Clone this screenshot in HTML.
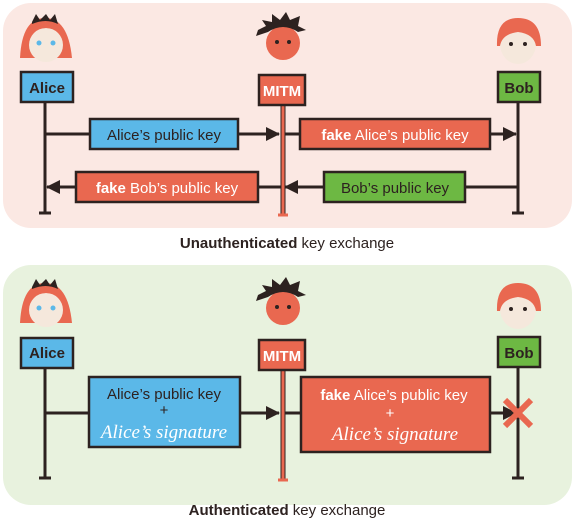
<!DOCTYPE html>
<html><head><style>
body{margin:0;width:575px;height:520px;background:#fff;font-family:"Liberation Sans",sans-serif;overflow:hidden}
</style></head><body>
<svg width="575" height="520" viewBox="0 0 575 520" xmlns="http://www.w3.org/2000/svg" font-family="Liberation Sans, sans-serif">
<defs>
<marker id="ar" markerWidth="14" markerHeight="14" refX="13" refY="7" orient="auto" markerUnits="userSpaceOnUse"><path d="M0,0 L14,7 L0,14 z" fill="#2d2220"/></marker>
</defs>
<rect x="3" y="3" width="569" height="225" rx="28" fill="#fbe8e3"/>
<rect x="3" y="265" width="569" height="240" rx="28" fill="#e8f2de"/>

<g id="alice">
<path d="M20,58 Q22,18 45,18 Q68,18 72,58 Z" fill="#e96850"/>
<ellipse cx="46" cy="45" rx="17" ry="17" fill="#f5e8dc"/>
<path d="M30,28 Q46,18 62,28 L60,32 Q46,24 32,32Z" fill="#e96850"/>
<path d="M32,22 L36,14 L40,20 L46,14 L50,20 L55,14 L58,24 Q46,18 32,24Z" fill="#2d2220"/>
<circle cx="39" cy="43" r="2.5" fill="#5bb8e8"/><circle cx="53" cy="43" r="2.5" fill="#5bb8e8"/>
</g>
<g transform="translate(0,265)"><use href="#alice"/></g>
<g id="mitm">
<circle cx="283" cy="43" r="17" fill="#e96850"/>
<path d="M258,30 L266,26 L262,20 L272,22 L272,14 L280,20 L286,12 L290,20 L300,16 L298,26 L306,30 L298,32 Q283,22 268,32 L256,36Z" fill="#2d2220"/>
<circle cx="277" cy="42" r="2" fill="#2d2220"/><circle cx="289" cy="42" r="2" fill="#2d2220"/>
</g>
<g transform="translate(0,265)"><use href="#mitm"/></g>
<g id="bob">
<ellipse cx="518" cy="44" rx="18" ry="20" fill="#f5e8dc"/>
<path d="M497,46 Q496,18 518,18 Q541,18 541,46 L536,46 Q534,34 518,32 Q502,34 500,46Z" fill="#e96850"/>
<circle cx="511" cy="44" r="2" fill="#2d2220"/><circle cx="525" cy="44" r="2" fill="#2d2220"/>
</g>
<g transform="translate(0,265)"><use href="#bob"/></g>

<g stroke="#2d2220" stroke-width="3" fill="none">
<line x1="45" y1="102" x2="45" y2="213"/><line x1="39" y1="213" x2="51" y2="213"/>
<line x1="518" y1="102" x2="518" y2="213"/><line x1="512" y1="213" x2="524" y2="213"/>
<line x1="45" y1="478" x2="45" y2="366"/><line x1="39" y1="478" x2="51" y2="478"/>
<line x1="518" y1="366" x2="518" y2="478"/><line x1="512" y1="478" x2="524" y2="478"/>
<line x1="45" y1="134" x2="279" y2="134" marker-end="url(#ar)"/>
<line x1="283" y1="134" x2="516" y2="134" marker-end="url(#ar)"/>
<line x1="518" y1="187" x2="285" y2="187" marker-end="url(#ar)"/>
<line x1="283" y1="187" x2="47" y2="187" marker-end="url(#ar)"/>
<line x1="45" y1="413" x2="279" y2="413" marker-end="url(#ar)"/>
<line x1="283" y1="413" x2="516" y2="413" marker-end="url(#ar)"/>
</g>
<rect x="281" y="104" width="4" height="111" fill="#e96850" stroke="#2d2220" stroke-width="1"/>
<line x1="278" y1="215" x2="288" y2="215" stroke="#e96850" stroke-width="3"/>
<rect x="281" y="369" width="4" height="111" fill="#e96850" stroke="#2d2220" stroke-width="1"/>
<line x1="278" y1="480" x2="288" y2="480" stroke="#e96850" stroke-width="3"/>

<g stroke="#2d2220" stroke-width="2.5">
<rect x="21" y="72" width="52" height="30" fill="#5bb8e8"/>
<rect x="259" y="75" width="46" height="30" fill="#e96850"/>
<rect x="498" y="72" width="42" height="30" fill="#6db843"/>
<rect x="21" y="338" width="52" height="30" fill="#5bb8e8"/>
<rect x="259" y="340" width="46" height="30" fill="#e96850"/>
<rect x="498" y="337" width="42" height="30" fill="#6db843"/>
<rect x="90" y="119" width="148" height="30" fill="#5bb8e8"/>
<rect x="300" y="119" width="190" height="30" fill="#e96850"/>
<rect x="76" y="172" width="182" height="30" fill="#e96850"/>
<rect x="324" y="172" width="141" height="30" fill="#6db843"/>
<rect x="89" y="377" width="151" height="70" fill="#5bb8e8"/>
<rect x="301" y="377" width="189" height="75" fill="#e96850"/>
</g>
<g font-size="15" text-anchor="middle">
<text x="47" y="93" font-weight="bold" fill="#2d2220">Alice</text>
<text x="282" y="96" font-weight="bold" fill="#fff">MITM</text>
<text x="519" y="93" font-weight="bold" fill="#2d2220">Bob</text>
<text x="47" y="358" font-weight="bold" fill="#2d2220">Alice</text>
<text x="282" y="361" font-weight="bold" fill="#fff">MITM</text>
<text x="519" y="358" font-weight="bold" fill="#2d2220">Bob</text>
<text x="164" y="140" fill="#2d2220">Alice’s public key</text>
<text x="395" y="140" fill="#fff"><tspan font-weight="bold">fake</tspan> Alice’s public key</text>
<text x="167" y="193" fill="#fff"><tspan font-weight="bold">fake</tspan> Bob’s public key</text>
<text x="395" y="193" fill="#2d2220">Bob’s public key</text>
<text x="164" y="399" fill="#2d2220">Alice’s public key</text>
<text x="164" y="415" fill="#2d2220">+</text>
<text x="164" y="438" fill="#fff" font-family="Liberation Serif, serif" font-style="italic" font-size="19">Alice’s signature</text>
<text x="394" y="400" fill="#fff"><tspan font-weight="bold">fake</tspan> Alice’s public key</text>
<text x="390" y="418" fill="#fff">+</text>
<text x="395" y="440" fill="#fff" font-family="Liberation Serif, serif" font-style="italic" font-size="19">Alice’s signature</text>
<text x="287" y="248" fill="#2d2220"><tspan font-weight="bold">Unauthenticated</tspan> key exchange</text>
<text x="287" y="515" fill="#2d2220"><tspan font-weight="bold">Authenticated</tspan> key exchange</text>
</g>
<g stroke="#e96850" stroke-width="6">
<line x1="505" y1="400" x2="531" y2="426"/><line x1="531" y1="400" x2="505" y2="426"/>
</g>
</svg>
</body></html>
